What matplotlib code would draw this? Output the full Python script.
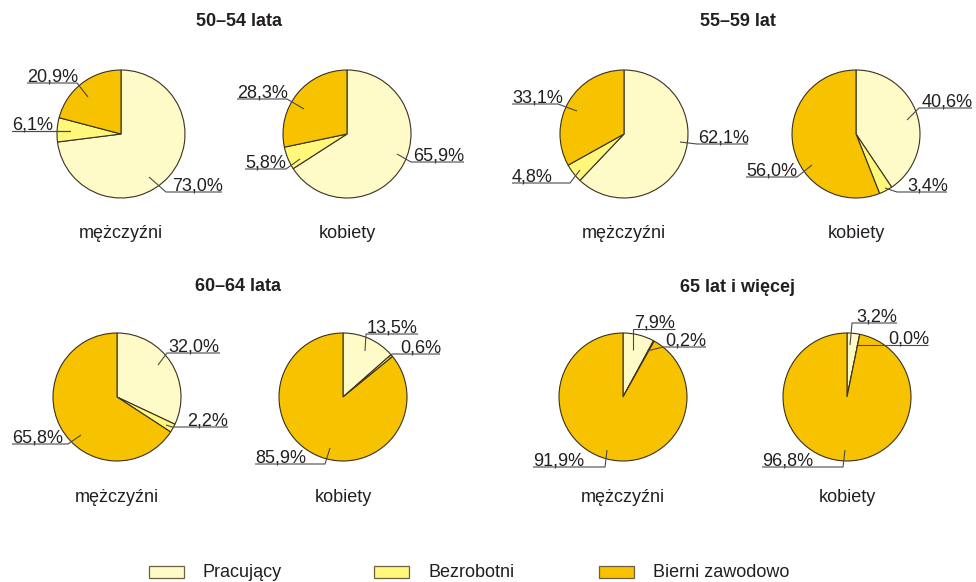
"""
Activity status by age group and sex: eight small pies with leader-line labels.
"""

import matplotlib.pyplot as plt
import matplotlib.patches as mpatches

plt.rcParams['font.family'] = ['Liberation Sans', 'DejaVu Sans']

W, H = 976, 582

CATEGORIES = ['Pracujący', 'Bezrobotni', 'Bierni zawodowo']
COLORS = ['#FFFBC8', '#FFF87A', '#F7C200']
SEXES = ['mężczyźni', 'kobiety']
GROUPS = ['50–54 lata', '55–59 lat', '60–64 lata', '65 lat i więcej']

# shares in %, order: Pracujący, Bezrobotni, Bierni zawodowo
men_50_54 = [73.0, 6.1, 20.9]
women_50_54 = [65.9, 5.8, 28.3]
men_55_59 = [62.1, 4.8, 33.1]
women_55_59 = [40.6, 3.4, 56.0]
men_60_64 = [32.0, 2.2, 65.8]
women_60_64 = [13.5, 0.6, 85.9]
men_65 = [7.9, 0.2, 91.9]
women_65 = [3.2, 0.0, 96.8]

PIES = [men_50_54, women_50_54, men_55_59, women_55_59,
        men_60_64, women_60_64, men_65, women_65]

# layout in pixel space (y grows downwards)
CENTERS = [(121, 134), (347, 134), (624, 134), (856, 134),
           (117, 397), (343, 397), (623, 397), (847, 397)]
RADIUS = 64
TITLE_POS = [(239, 26), (738, 26), (238, 291), (737, 292)]
SUB_Y = [238, 238, 238, 238, 502, 502, 502, 502]

# per label: text x, underline y, underline x0, x1, leader anchor x, y
LABELS = [
    [(172, 192, 166, 222, 149, 177), (12, 131, 12, 70, 70, 131), (27, 83, 27, 77, 88, 97)],
    [(413, 162, 411, 464, 397, 154), (245, 169, 245, 286, 300, 159), (237, 99, 237, 287, 304, 109)],
    [(698, 144, 697, 748, 680, 142), (512, 183, 512, 570, 580, 170), (512, 104, 512, 558, 577, 111)],
    [(922, 108, 919, 972, 907, 120), (907, 192, 897, 947, 885, 188), (746, 177, 746, 797, 812, 165)],
    [(168, 353, 167, 220, 158, 365), (187, 427, 172, 228, 166, 425), (12, 444, 12, 68, 81, 435)],
    [(367, 334, 366, 418, 365, 351), (400, 354, 392, 440, 388, 358), (255, 464, 255, 325, 330, 448)],
    [(634, 329, 633, 675, 633, 350), (665, 347, 663, 706, 647, 351), (533, 467, 533, 605, 607, 450)],
    [(856, 323, 852, 897, 850, 345), (888, 345, 856, 928, 856, 345), (762, 467, 762, 843, 845, 450)],
]

TXT = '#231F20'
EDGE = '#3A3222'


def fmt(v):
    return f'{v:.1f}'.replace('.', ',') + '%'


fig = plt.figure(figsize=(W / 100, H / 100), dpi=100)
ax = fig.add_axes([0, 0, 1, 1])

for i, vals in enumerate(PIES):
    # y axis is inverted, so startangle -90 / counterclock draws clockwise from the top
    ax.pie(vals, colors=COLORS, center=CENTERS[i], radius=RADIUS,
           startangle=-90, counterclock=True, frame=True,
           wedgeprops=dict(edgecolor=EDGE, linewidth=0.8))
    for v, (tx, uy, u0, u1, lx, ly) in zip(vals, LABELS[i]):
        ex = u1 if lx > u1 else u0
        ax.plot([lx, ex, u0 if ex == u1 else u1], [ly, uy, uy],
                color='#4A4A4A', lw=0.8, solid_capstyle='butt')
        ax.text(tx, uy - 1.5, fmt(v), fontsize=13, color=TXT,
                ha='left', va='baseline')
    ax.text(CENTERS[i][0], SUB_Y[i], SEXES[i % 2], fontsize=13, color=TXT,
            ha='center', va='baseline')

for (x, y), g in zip(TITLE_POS, GROUPS):
    ax.text(x, y, g, fontsize=13, fontweight='bold', color=TXT,
            ha='center', va='baseline')

# legend row
LEG_X = [149, 374, 599]
for x, lab, c in zip(LEG_X, CATEGORIES, COLORS):
    ax.add_patch(mpatches.Rectangle((x, 566), 35, 12, facecolor=c,
                                    edgecolor='#6B6040', linewidth=0.9))
    ax.text(x + 54, 577, lab, fontsize=13, color=TXT, ha='left', va='baseline')

ax.set_xlim(0, W)
ax.set_ylim(H, 0)
ax.set_aspect('equal')
ax.axis('off')

fig.savefig('out.png', dpi=100, facecolor='white')
plt.close(fig)
